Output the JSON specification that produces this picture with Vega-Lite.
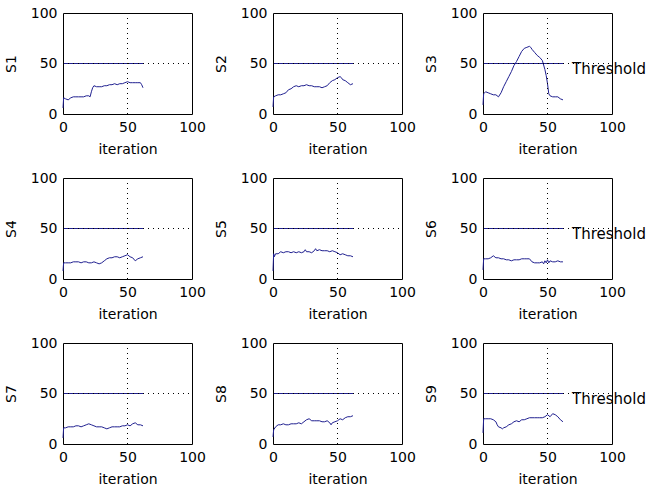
{
"$schema": "https://vega.github.io/schema/vega-lite/v6.json",
"background": "white",
"padding": {"top": 5, "left": 3, "right": 0, "bottom": 0},
"datasets": {
"series": [
{"s":"S1","x":0,"y":6},{"s":"S1","x":0.5,"y":16},{"s":"S1","x":2,"y":15},{"s":"S1","x":4,"y":14},{"s":"S1","x":6,"y":16},{"s":"S1","x":8,"y":17},{"s":"S1","x":10,"y":17},{"s":"S1","x":12,"y":17},{"s":"S1","x":14,"y":17},{"s":"S1","x":16,"y":17},{"s":"S1","x":18,"y":18},{"s":"S1","x":20,"y":18},{"s":"S1","x":21,"y":17},{"s":"S1","x":22,"y":22},{"s":"S1","x":23,"y":26},{"s":"S1","x":24,"y":28},{"s":"S1","x":26,"y":27},{"s":"S1","x":28,"y":27},{"s":"S1","x":30,"y":27},{"s":"S1","x":32,"y":28},{"s":"S1","x":34,"y":28},{"s":"S1","x":36,"y":29},{"s":"S1","x":38,"y":29},{"s":"S1","x":40,"y":30},{"s":"S1","x":42,"y":29},{"s":"S1","x":44,"y":30},{"s":"S1","x":46,"y":30},{"s":"S1","x":48,"y":31},{"s":"S1","x":50,"y":32},{"s":"S1","x":52,"y":31},{"s":"S1","x":54,"y":31},{"s":"S1","x":56,"y":31},{"s":"S1","x":58,"y":31},{"s":"S1","x":60,"y":31},{"s":"S1","x":61,"y":29},{"s":"S1","x":62,"y":26},
{"s":"S2","x":0,"y":7},{"s":"S2","x":0.5,"y":17},{"s":"S2","x":2,"y":18},{"s":"S2","x":4,"y":19},{"s":"S2","x":6,"y":19},{"s":"S2","x":8,"y":20},{"s":"S2","x":10,"y":21},{"s":"S2","x":12,"y":24},{"s":"S2","x":14,"y":25},{"s":"S2","x":16,"y":27},{"s":"S2","x":18,"y":28},{"s":"S2","x":20,"y":27},{"s":"S2","x":22,"y":28},{"s":"S2","x":24,"y":28},{"s":"S2","x":26,"y":29},{"s":"S2","x":28,"y":28},{"s":"S2","x":30,"y":28},{"s":"S2","x":32,"y":27},{"s":"S2","x":34,"y":27},{"s":"S2","x":36,"y":27},{"s":"S2","x":38,"y":26},{"s":"S2","x":40,"y":27},{"s":"S2","x":42,"y":28},{"s":"S2","x":44,"y":31},{"s":"S2","x":46,"y":33},{"s":"S2","x":48,"y":34},{"s":"S2","x":50,"y":36},{"s":"S2","x":52,"y":37},{"s":"S2","x":53,"y":36},{"s":"S2","x":54,"y":34},{"s":"S2","x":56,"y":33},{"s":"S2","x":58,"y":31},{"s":"S2","x":60,"y":29},{"s":"S2","x":62,"y":30},
{"s":"S3","x":0,"y":9},{"s":"S3","x":0.5,"y":20},{"s":"S3","x":2,"y":22},{"s":"S3","x":4,"y":21},{"s":"S3","x":6,"y":20},{"s":"S3","x":8,"y":19},{"s":"S3","x":10,"y":19},{"s":"S3","x":12,"y":17},{"s":"S3","x":14,"y":21},{"s":"S3","x":16,"y":27},{"s":"S3","x":18,"y":32},{"s":"S3","x":20,"y":37},{"s":"S3","x":22,"y":42},{"s":"S3","x":24,"y":48},{"s":"S3","x":26,"y":52},{"s":"S3","x":28,"y":57},{"s":"S3","x":30,"y":62},{"s":"S3","x":32,"y":65},{"s":"S3","x":34,"y":66},{"s":"S3","x":36,"y":67},{"s":"S3","x":37,"y":66},{"s":"S3","x":38,"y":64},{"s":"S3","x":40,"y":61},{"s":"S3","x":42,"y":58},{"s":"S3","x":44,"y":56},{"s":"S3","x":46,"y":53},{"s":"S3","x":48,"y":44},{"s":"S3","x":49,"y":38},{"s":"S3","x":50,"y":30},{"s":"S3","x":51,"y":20},{"s":"S3","x":52,"y":18},{"s":"S3","x":54,"y":17},{"s":"S3","x":56,"y":17},{"s":"S3","x":58,"y":17},{"s":"S3","x":60,"y":15},{"s":"S3","x":62,"y":14},
{"s":"S4","x":0,"y":8},{"s":"S4","x":0.5,"y":16},{"s":"S4","x":2,"y":16},{"s":"S4","x":4,"y":16},{"s":"S4","x":6,"y":16},{"s":"S4","x":8,"y":17},{"s":"S4","x":10,"y":17},{"s":"S4","x":12,"y":17},{"s":"S4","x":14,"y":16},{"s":"S4","x":16,"y":17},{"s":"S4","x":18,"y":17},{"s":"S4","x":20,"y":16},{"s":"S4","x":22,"y":16},{"s":"S4","x":24,"y":17},{"s":"S4","x":26,"y":16},{"s":"S4","x":28,"y":15},{"s":"S4","x":30,"y":16},{"s":"S4","x":32,"y":18},{"s":"S4","x":34,"y":20},{"s":"S4","x":36,"y":21},{"s":"S4","x":38,"y":21},{"s":"S4","x":40,"y":22},{"s":"S4","x":42,"y":22},{"s":"S4","x":44,"y":21},{"s":"S4","x":46,"y":22},{"s":"S4","x":48,"y":23},{"s":"S4","x":50,"y":24},{"s":"S4","x":52,"y":22},{"s":"S4","x":54,"y":21},{"s":"S4","x":56,"y":18},{"s":"S4","x":58,"y":20},{"s":"S4","x":60,"y":21},{"s":"S4","x":62,"y":22},
{"s":"S5","x":0,"y":8},{"s":"S5","x":0.5,"y":25},{"s":"S5","x":1,"y":22},{"s":"S5","x":2,"y":25},{"s":"S5","x":4,"y":25},{"s":"S5","x":6,"y":27},{"s":"S5","x":8,"y":26},{"s":"S5","x":10,"y":27},{"s":"S5","x":12,"y":27},{"s":"S5","x":14,"y":26},{"s":"S5","x":16,"y":27},{"s":"S5","x":18,"y":26},{"s":"S5","x":20,"y":27},{"s":"S5","x":22,"y":26},{"s":"S5","x":24,"y":27},{"s":"S5","x":25,"y":29},{"s":"S5","x":26,"y":27},{"s":"S5","x":28,"y":27},{"s":"S5","x":30,"y":26},{"s":"S5","x":32,"y":28},{"s":"S5","x":33,"y":30},{"s":"S5","x":34,"y":28},{"s":"S5","x":36,"y":29},{"s":"S5","x":38,"y":28},{"s":"S5","x":40,"y":28},{"s":"S5","x":42,"y":28},{"s":"S5","x":44,"y":27},{"s":"S5","x":46,"y":28},{"s":"S5","x":48,"y":27},{"s":"S5","x":50,"y":26},{"s":"S5","x":52,"y":24},{"s":"S5","x":54,"y":25},{"s":"S5","x":56,"y":24},{"s":"S5","x":58,"y":23},{"s":"S5","x":60,"y":23},{"s":"S5","x":62,"y":22},
{"s":"S6","x":0,"y":9},{"s":"S6","x":0.5,"y":20},{"s":"S6","x":2,"y":20},{"s":"S6","x":4,"y":20},{"s":"S6","x":6,"y":21},{"s":"S6","x":8,"y":23},{"s":"S6","x":10,"y":21},{"s":"S6","x":12,"y":21},{"s":"S6","x":14,"y":20},{"s":"S6","x":16,"y":20},{"s":"S6","x":18,"y":19},{"s":"S6","x":20,"y":19},{"s":"S6","x":22,"y":18},{"s":"S6","x":24,"y":19},{"s":"S6","x":26,"y":19},{"s":"S6","x":28,"y":19},{"s":"S6","x":30,"y":20},{"s":"S6","x":32,"y":20},{"s":"S6","x":34,"y":20},{"s":"S6","x":36,"y":20},{"s":"S6","x":38,"y":17},{"s":"S6","x":40,"y":16},{"s":"S6","x":42,"y":16},{"s":"S6","x":44,"y":16},{"s":"S6","x":46,"y":17},{"s":"S6","x":47,"y":15},{"s":"S6","x":48,"y":18},{"s":"S6","x":49,"y":16},{"s":"S6","x":50,"y":19},{"s":"S6","x":51,"y":16},{"s":"S6","x":52,"y":18},{"s":"S6","x":54,"y":17},{"s":"S6","x":56,"y":17},{"s":"S6","x":58,"y":18},{"s":"S6","x":60,"y":17},{"s":"S6","x":62,"y":17},
{"s":"S7","x":0,"y":6},{"s":"S7","x":0.5,"y":16},{"s":"S7","x":2,"y":16},{"s":"S7","x":4,"y":17},{"s":"S7","x":6,"y":17},{"s":"S7","x":8,"y":17},{"s":"S7","x":10,"y":18},{"s":"S7","x":12,"y":18},{"s":"S7","x":14,"y":17},{"s":"S7","x":16,"y":18},{"s":"S7","x":18,"y":19},{"s":"S7","x":20,"y":20},{"s":"S7","x":22,"y":19},{"s":"S7","x":24,"y":18},{"s":"S7","x":26,"y":17},{"s":"S7","x":28,"y":17},{"s":"S7","x":30,"y":17},{"s":"S7","x":32,"y":16},{"s":"S7","x":34,"y":15},{"s":"S7","x":36,"y":16},{"s":"S7","x":38,"y":17},{"s":"S7","x":40,"y":17},{"s":"S7","x":42,"y":17},{"s":"S7","x":44,"y":17},{"s":"S7","x":46,"y":18},{"s":"S7","x":48,"y":18},{"s":"S7","x":50,"y":19},{"s":"S7","x":52,"y":18},{"s":"S7","x":54,"y":20},{"s":"S7","x":56,"y":21},{"s":"S7","x":58,"y":19},{"s":"S7","x":60,"y":19},{"s":"S7","x":62,"y":18},
{"s":"S8","x":0,"y":7},{"s":"S8","x":0.5,"y":14},{"s":"S8","x":2,"y":17},{"s":"S8","x":4,"y":19},{"s":"S8","x":6,"y":19},{"s":"S8","x":8,"y":20},{"s":"S8","x":10,"y":19},{"s":"S8","x":12,"y":19},{"s":"S8","x":14,"y":20},{"s":"S8","x":16,"y":20},{"s":"S8","x":18,"y":20},{"s":"S8","x":20,"y":21},{"s":"S8","x":22,"y":20},{"s":"S8","x":24,"y":22},{"s":"S8","x":26,"y":24},{"s":"S8","x":28,"y":25},{"s":"S8","x":30,"y":23},{"s":"S8","x":32,"y":23},{"s":"S8","x":34,"y":23},{"s":"S8","x":36,"y":23},{"s":"S8","x":38,"y":22},{"s":"S8","x":40,"y":22},{"s":"S8","x":42,"y":23},{"s":"S8","x":44,"y":21},{"s":"S8","x":45,"y":19},{"s":"S8","x":46,"y":21},{"s":"S8","x":48,"y":22},{"s":"S8","x":50,"y":23},{"s":"S8","x":52,"y":25},{"s":"S8","x":54,"y":24},{"s":"S8","x":56,"y":26},{"s":"S8","x":58,"y":27},{"s":"S8","x":60,"y":27},{"s":"S8","x":62,"y":28},
{"s":"S9","x":0,"y":11},{"s":"S9","x":0.5,"y":25},{"s":"S9","x":2,"y":25},{"s":"S9","x":4,"y":25},{"s":"S9","x":6,"y":25},{"s":"S9","x":8,"y":24},{"s":"S9","x":10,"y":22},{"s":"S9","x":11,"y":19},{"s":"S9","x":12,"y":17},{"s":"S9","x":14,"y":16},{"s":"S9","x":15,"y":15},{"s":"S9","x":16,"y":16},{"s":"S9","x":18,"y":17},{"s":"S9","x":20,"y":19},{"s":"S9","x":22,"y":20},{"s":"S9","x":24,"y":22},{"s":"S9","x":26,"y":23},{"s":"S9","x":28,"y":22},{"s":"S9","x":30,"y":24},{"s":"S9","x":32,"y":24},{"s":"S9","x":34,"y":25},{"s":"S9","x":36,"y":26},{"s":"S9","x":38,"y":26},{"s":"S9","x":40,"y":26},{"s":"S9","x":42,"y":26},{"s":"S9","x":44,"y":26},{"s":"S9","x":46,"y":26},{"s":"S9","x":48,"y":27},{"s":"S9","x":50,"y":29},{"s":"S9","x":52,"y":27},{"s":"S9","x":54,"y":30},{"s":"S9","x":56,"y":29},{"s":"S9","x":58,"y":27},{"s":"S9","x":60,"y":24},{"s":"S9","x":62,"y":22}
],
"one": [{"label": "Threshold"}]
},
"columns": 3,
"spacing": {"row": 64, "column": 81},
"bounds": "flush",
"concat": [
{"width":129,"height":101,"layer":[
{"data":{"name":"series"},"transform":[{"filter":"datum.s === 'S1'"}],"mark":{"type":"line","color":"#202090","strokeWidth":1},"encoding":{"x":{"field":"x","type":"quantitative","scale":{"domain":[0,100]},"axis":{"values":[0,50,100]},"title":"iteration"},"y":{"field":"y","type":"quantitative","scale":{"domain":[0,100]},"axis":{"values":[0,50,100]},"title":"S1"}}},
{"data":{"name":"one"},"mark":{"type":"rule","color":"#202090","strokeWidth":1},"encoding":{"x":{"datum":0},"x2":{"datum":62},"y":{"datum":50}}},
{"data":{"name":"one"},"mark":{"type":"rule","color":"black","strokeWidth":1,"strokeDash":[1,4]},"encoding":{"x":{"datum":0},"x2":{"datum":100},"y":{"datum":50}}},
{"data":{"name":"one"},"mark":{"type":"rule","color":"black","strokeWidth":1,"strokeDash":[1,4]},"encoding":{"x":{"datum":50},"y":{"datum":0},"y2":{"datum":100}}}
]},
{"width":129,"height":101,"layer":[
{"data":{"name":"series"},"transform":[{"filter":"datum.s === 'S2'"}],"mark":{"type":"line","color":"#202090","strokeWidth":1},"encoding":{"x":{"field":"x","type":"quantitative","scale":{"domain":[0,100]},"axis":{"values":[0,50,100]},"title":"iteration"},"y":{"field":"y","type":"quantitative","scale":{"domain":[0,100]},"axis":{"values":[0,50,100]},"title":"S2"}}},
{"data":{"name":"one"},"mark":{"type":"rule","color":"#202090","strokeWidth":1},"encoding":{"x":{"datum":0},"x2":{"datum":62},"y":{"datum":50}}},
{"data":{"name":"one"},"mark":{"type":"rule","color":"black","strokeWidth":1,"strokeDash":[1,4]},"encoding":{"x":{"datum":0},"x2":{"datum":100},"y":{"datum":50}}},
{"data":{"name":"one"},"mark":{"type":"rule","color":"black","strokeWidth":1,"strokeDash":[1,4]},"encoding":{"x":{"datum":50},"y":{"datum":0},"y2":{"datum":100}}}
]},
{"width":129,"height":101,"layer":[
{"data":{"name":"series"},"transform":[{"filter":"datum.s === 'S3'"}],"mark":{"type":"line","color":"#202090","strokeWidth":1},"encoding":{"x":{"field":"x","type":"quantitative","scale":{"domain":[0,100]},"axis":{"values":[0,50,100]},"title":"iteration"},"y":{"field":"y","type":"quantitative","scale":{"domain":[0,100]},"axis":{"values":[0,50,100]},"title":"S3"}}},
{"data":{"name":"one"},"mark":{"type":"rule","color":"#202090","strokeWidth":1},"encoding":{"x":{"datum":0},"x2":{"datum":62},"y":{"datum":50}}},
{"data":{"name":"one"},"mark":{"type":"rule","color":"black","strokeWidth":1,"strokeDash":[1,4]},"encoding":{"x":{"datum":0},"x2":{"datum":100},"y":{"datum":50}}},
{"data":{"name":"one"},"mark":{"type":"rule","color":"black","strokeWidth":1,"strokeDash":[1,4]},"encoding":{"x":{"datum":50},"y":{"datum":0},"y2":{"datum":100}}},
{"data":{"name":"one"},"mark":{"type":"text","align":"left","baseline":"middle","font":"DejaVu Sans","fontSize":15,"color":"black"},"encoding":{"x":{"datum":69},"y":{"datum":45},"text":{"field":"label"}}}
]},
{"width":129,"height":101,"layer":[
{"data":{"name":"series"},"transform":[{"filter":"datum.s === 'S4'"}],"mark":{"type":"line","color":"#202090","strokeWidth":1},"encoding":{"x":{"field":"x","type":"quantitative","scale":{"domain":[0,100]},"axis":{"values":[0,50,100]},"title":"iteration"},"y":{"field":"y","type":"quantitative","scale":{"domain":[0,100]},"axis":{"values":[0,50,100]},"title":"S4"}}},
{"data":{"name":"one"},"mark":{"type":"rule","color":"#202090","strokeWidth":1},"encoding":{"x":{"datum":0},"x2":{"datum":62},"y":{"datum":50}}},
{"data":{"name":"one"},"mark":{"type":"rule","color":"black","strokeWidth":1,"strokeDash":[1,4]},"encoding":{"x":{"datum":0},"x2":{"datum":100},"y":{"datum":50}}},
{"data":{"name":"one"},"mark":{"type":"rule","color":"black","strokeWidth":1,"strokeDash":[1,4]},"encoding":{"x":{"datum":50},"y":{"datum":0},"y2":{"datum":100}}}
]},
{"width":129,"height":101,"layer":[
{"data":{"name":"series"},"transform":[{"filter":"datum.s === 'S5'"}],"mark":{"type":"line","color":"#202090","strokeWidth":1},"encoding":{"x":{"field":"x","type":"quantitative","scale":{"domain":[0,100]},"axis":{"values":[0,50,100]},"title":"iteration"},"y":{"field":"y","type":"quantitative","scale":{"domain":[0,100]},"axis":{"values":[0,50,100]},"title":"S5"}}},
{"data":{"name":"one"},"mark":{"type":"rule","color":"#202090","strokeWidth":1},"encoding":{"x":{"datum":0},"x2":{"datum":62},"y":{"datum":50}}},
{"data":{"name":"one"},"mark":{"type":"rule","color":"black","strokeWidth":1,"strokeDash":[1,4]},"encoding":{"x":{"datum":0},"x2":{"datum":100},"y":{"datum":50}}},
{"data":{"name":"one"},"mark":{"type":"rule","color":"black","strokeWidth":1,"strokeDash":[1,4]},"encoding":{"x":{"datum":50},"y":{"datum":0},"y2":{"datum":100}}}
]},
{"width":129,"height":101,"layer":[
{"data":{"name":"series"},"transform":[{"filter":"datum.s === 'S6'"}],"mark":{"type":"line","color":"#202090","strokeWidth":1},"encoding":{"x":{"field":"x","type":"quantitative","scale":{"domain":[0,100]},"axis":{"values":[0,50,100]},"title":"iteration"},"y":{"field":"y","type":"quantitative","scale":{"domain":[0,100]},"axis":{"values":[0,50,100]},"title":"S6"}}},
{"data":{"name":"one"},"mark":{"type":"rule","color":"#202090","strokeWidth":1},"encoding":{"x":{"datum":0},"x2":{"datum":62},"y":{"datum":50}}},
{"data":{"name":"one"},"mark":{"type":"rule","color":"black","strokeWidth":1,"strokeDash":[1,4]},"encoding":{"x":{"datum":0},"x2":{"datum":100},"y":{"datum":50}}},
{"data":{"name":"one"},"mark":{"type":"rule","color":"black","strokeWidth":1,"strokeDash":[1,4]},"encoding":{"x":{"datum":50},"y":{"datum":0},"y2":{"datum":100}}},
{"data":{"name":"one"},"mark":{"type":"text","align":"left","baseline":"middle","font":"DejaVu Sans","fontSize":15,"color":"black"},"encoding":{"x":{"datum":69},"y":{"datum":45},"text":{"field":"label"}}}
]},
{"width":129,"height":101,"layer":[
{"data":{"name":"series"},"transform":[{"filter":"datum.s === 'S7'"}],"mark":{"type":"line","color":"#202090","strokeWidth":1},"encoding":{"x":{"field":"x","type":"quantitative","scale":{"domain":[0,100]},"axis":{"values":[0,50,100]},"title":"iteration"},"y":{"field":"y","type":"quantitative","scale":{"domain":[0,100]},"axis":{"values":[0,50,100]},"title":"S7"}}},
{"data":{"name":"one"},"mark":{"type":"rule","color":"#202090","strokeWidth":1},"encoding":{"x":{"datum":0},"x2":{"datum":62},"y":{"datum":50}}},
{"data":{"name":"one"},"mark":{"type":"rule","color":"black","strokeWidth":1,"strokeDash":[1,4]},"encoding":{"x":{"datum":0},"x2":{"datum":100},"y":{"datum":50}}},
{"data":{"name":"one"},"mark":{"type":"rule","color":"black","strokeWidth":1,"strokeDash":[1,4]},"encoding":{"x":{"datum":50},"y":{"datum":0},"y2":{"datum":100}}}
]},
{"width":129,"height":101,"layer":[
{"data":{"name":"series"},"transform":[{"filter":"datum.s === 'S8'"}],"mark":{"type":"line","color":"#202090","strokeWidth":1},"encoding":{"x":{"field":"x","type":"quantitative","scale":{"domain":[0,100]},"axis":{"values":[0,50,100]},"title":"iteration"},"y":{"field":"y","type":"quantitative","scale":{"domain":[0,100]},"axis":{"values":[0,50,100]},"title":"S8"}}},
{"data":{"name":"one"},"mark":{"type":"rule","color":"#202090","strokeWidth":1},"encoding":{"x":{"datum":0},"x2":{"datum":62},"y":{"datum":50}}},
{"data":{"name":"one"},"mark":{"type":"rule","color":"black","strokeWidth":1,"strokeDash":[1,4]},"encoding":{"x":{"datum":0},"x2":{"datum":100},"y":{"datum":50}}},
{"data":{"name":"one"},"mark":{"type":"rule","color":"black","strokeWidth":1,"strokeDash":[1,4]},"encoding":{"x":{"datum":50},"y":{"datum":0},"y2":{"datum":100}}}
]},
{"width":129,"height":101,"layer":[
{"data":{"name":"series"},"transform":[{"filter":"datum.s === 'S9'"}],"mark":{"type":"line","color":"#202090","strokeWidth":1},"encoding":{"x":{"field":"x","type":"quantitative","scale":{"domain":[0,100]},"axis":{"values":[0,50,100]},"title":"iteration"},"y":{"field":"y","type":"quantitative","scale":{"domain":[0,100]},"axis":{"values":[0,50,100]},"title":"S9"}}},
{"data":{"name":"one"},"mark":{"type":"rule","color":"#202090","strokeWidth":1},"encoding":{"x":{"datum":0},"x2":{"datum":62},"y":{"datum":50}}},
{"data":{"name":"one"},"mark":{"type":"rule","color":"black","strokeWidth":1,"strokeDash":[1,4]},"encoding":{"x":{"datum":0},"x2":{"datum":100},"y":{"datum":50}}},
{"data":{"name":"one"},"mark":{"type":"rule","color":"black","strokeWidth":1,"strokeDash":[1,4]},"encoding":{"x":{"datum":50},"y":{"datum":0},"y2":{"datum":100}}},
{"data":{"name":"one"},"mark":{"type":"text","align":"left","baseline":"middle","font":"DejaVu Sans","fontSize":15,"color":"black"},"encoding":{"x":{"datum":69},"y":{"datum":45},"text":{"field":"label"}}}
]}
],
"config": {
"view": {"stroke": "black", "strokeWidth": 1},
"axis": {"grid": false, "ticks": false, "domain": false, "labelFlush": false, "labelOverlap": false, "labelFont": "DejaVu Sans", "labelFontSize": 14, "labelColor": "black", "titleFont": "DejaVu Sans", "titleFontSize": 14, "titleFontWeight": "normal", "titleColor": "black", "labelPadding": 6},
"axisX": {"titlePadding": 8},
"axisY": {"titlePadding": 12}
}
}
